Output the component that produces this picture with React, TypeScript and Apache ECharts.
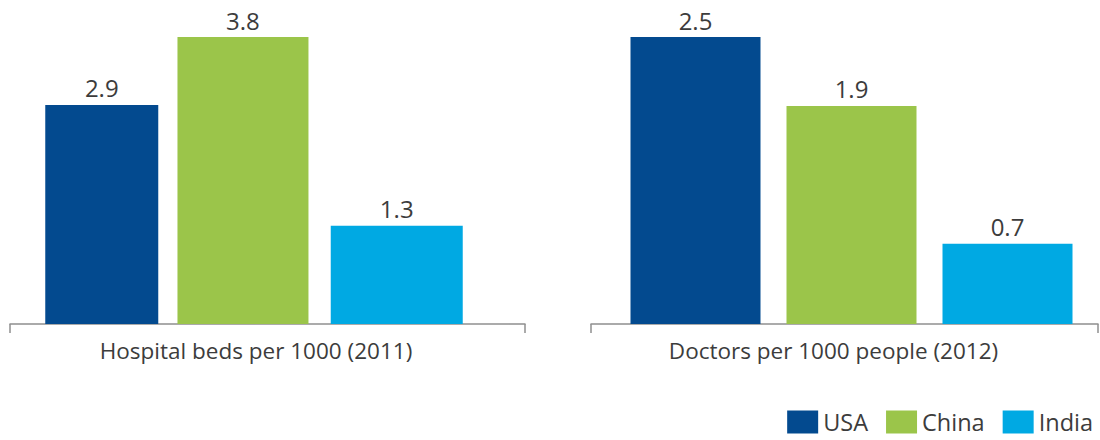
import React, { useEffect, useRef } from "react";
import * as echarts from "echarts";

const countries = ["USA", "China", "India"];
const colors = ["#034a8f", "#9bc54a", "#00a9e3"];
const panelTitles = ["Hospital beds per 1000 (2011)", "Doctors per 1000 people (2012)"];
const hospitalBeds = [2.9, 3.8, 1.3];
const doctors = [2.5, 1.9, 0.7];
const panelValues = [hospitalBeds, doctors];
const panelMax = [3.8, 2.5];

export default function App() {
  const ref = useRef<HTMLDivElement>(null);
  useEffect(() => {
    if (!ref.current) return;
    const chart = echarts.init(ref.current, undefined, { renderer: "svg" });
    const font = "'Open Sans', 'Noto Sans', sans-serif";
    const textColor = "#3c3c3c";
    const axisColor = "#8f8f8f";
    // grids 0,1: bars of the two panels; grids 2,3: the visible baselines
    const grids = [
      { left: 8, width: 492, top: 37, bottom: 116 },
      { left: 605, width: 493, top: 37, bottom: 116 },
      { left: 10, width: 515, top: 37, bottom: 116 },
      { left: 591, width: 507, top: 37, bottom: 116 },
    ];
    const barWidths = [
      [113, 131, 132],
      [130, 130, 130],
    ];
    const barGaps = ["17%", "20%"];
    const labelPadding = [
      [0, 0, 0, 4],
      [0, 36, 0, 0],
    ];
    const series: any[] = [];
    panelValues.forEach((vals, p) => {
      countries.forEach((c, i) => {
        series.push({
          type: "bar",
          name: c,
          xAxisIndex: p,
          yAxisIndex: p,
          data: [vals[i]],
          barWidth: barWidths[p][i],
          barGap: barGaps[p],
          itemStyle: { color: colors[i] },
          label: {
            show: true,
            position: "top",
            distance: 5,
            fontSize: 24,
            color: textColor,
            fontFamily: font,
            formatter: (d: any) => d.value.toFixed(1),
          },
        });
      });
    });
    const xAxis: any[] = [
      ...panelTitles.map((t, p) => ({
        type: "category",
        gridIndex: p,
        data: [t],
        axisLine: { show: false },
        axisTick: { show: false },
        axisLabel: {
          fontSize: 22.5,
          color: textColor,
          margin: 15,
          fontFamily: font,
          padding: labelPadding[p],
        },
      })),
      ...panelTitles.map((t, p) => ({
        type: "category",
        gridIndex: p + 2,
        data: [t],
        axisLine: { lineStyle: { color: axisColor, width: 1.5 } },
        axisTick: { show: true, length: 9, lineStyle: { color: axisColor, width: 1.5 } },
        axisLabel: { show: false },
      })),
    ];
    const yAxis: any[] = [0, 1, 2, 3].map((g) => ({
      type: "value",
      gridIndex: g,
      min: 0,
      max: panelMax[g % 2],
      show: false,
      splitLine: { show: false },
    }));
    chart.setOption({
      animation: false,
      backgroundColor: "#ffffff",
      grid: grids,
      xAxis,
      yAxis,
      legend: {
        data: countries,
        right: 2,
        top: 405,
        icon: "rect",
        itemWidth: 31,
        itemHeight: 23,
        itemGap: 18,
        textStyle: { fontSize: 23.5, color: textColor, fontFamily: font },
      },
      series,
    });
    return () => chart.dispose();
  }, []);
  return (
    <div
      ref={ref}
      style={{ position: "fixed", left: 0, top: 0, width: 1100, height: 440 }}
    />
  );
}
